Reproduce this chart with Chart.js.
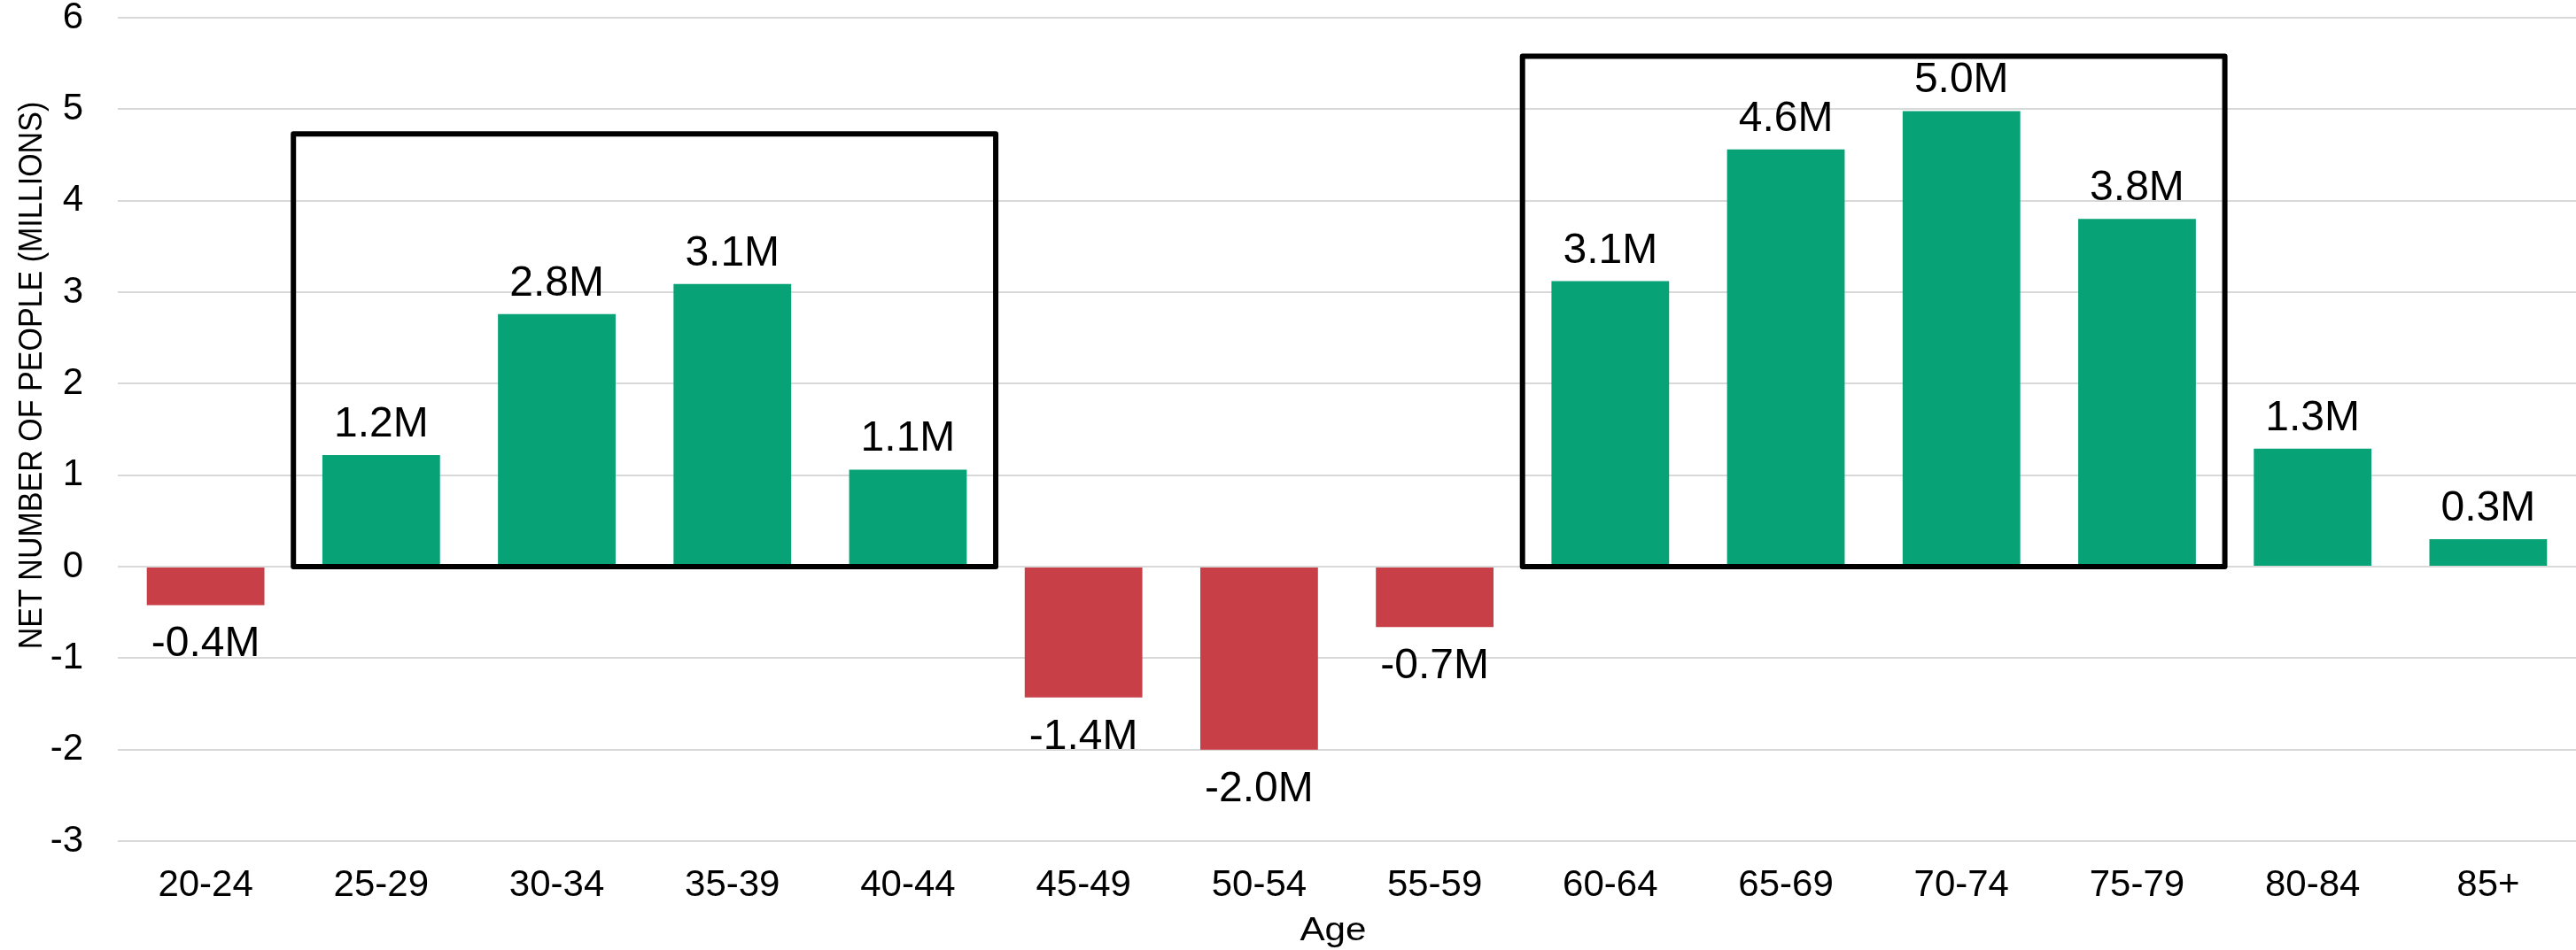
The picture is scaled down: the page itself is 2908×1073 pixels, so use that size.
<!DOCTYPE html>
<html>
<head>
<meta charset="utf-8">
<script src="https://cdn.jsdelivr.net/npm/chart.js@4/dist/chart.umd.min.js"></script>
<style>
  html, body { margin: 0; padding: 0; background: #ffffff; }
  #wrap { width: 2908px; height: 1073px; position: relative; }
</style>
</head>
<body>
<div id="wrap"><canvas id="c" width="2908" height="1073"></canvas></div>
<script>
// ---- data ----
const categories = ["20-24","25-29","30-34","35-39","40-44","45-49","50-54","55-59","60-64","65-69","70-74","75-79","80-84","85+"];
const netMillions = [-0.42, 1.22, 2.76, 3.09, 1.06, -1.43, -2.00, -0.66, 3.12, 4.56, 4.98, 3.80, 1.29, 0.30];
const valueLabels = ["-0.4M","1.2M","2.8M","3.1M","1.1M","-1.4M","-2.0M","-0.7M","3.1M","4.6M","5.0M","3.8M","1.3M","0.3M"];
const yTickValues = [6, 5, 4, 3, 2, 1, 0, -1, -2, -3];
// highlight boxes: first category index, last category index, top value
const boxFirst = [1, 8];
const boxLast = [4, 11];
const boxTop = [4.73, 5.58];
const yAxisTitle = "NET NUMBER OF PEOPLE (MILLIONS)";
const xAxisTitle = "Age";

const GREEN = "#08A277";
const RED = "#C83F47";
const FONT = "'Liberation Sans', Arial, Helvetica, sans-serif";

const overlay = {
  id: "overlay",
  afterDatasetsDraw(chart) {
    const ctx = chart.ctx;
    const x = chart.scales.x, y = chart.scales.y;
    const half = (x.getPixelForValue(1) - x.getPixelForValue(0)) / 2;
    // boxes
    ctx.save();
    ctx.strokeStyle = "#000000";
    ctx.lineWidth = 6;
    ctx.lineJoin = "round";
    for (let i = 0; i < boxFirst.length; i++) {
      const l = x.getPixelForValue(boxFirst[i]) - half;
      const r = x.getPixelForValue(boxLast[i]) + half;
      const t = y.getPixelForValue(boxTop[i]);
      const b = y.getPixelForValue(0);
      ctx.strokeRect(l, t, r - l, b - t);
    }
    ctx.restore();
    // value labels
    ctx.save();
    ctx.fillStyle = "#000000";
    ctx.font = "48px " + FONT;
    ctx.textAlign = "center";
    ctx.textBaseline = "alphabetic";
    const meta = chart.getDatasetMeta(0);
    meta.data.forEach((bar, i) => {
      const v = netMillions[i];
      const cx = bar.x;
      if (v >= 0) {
        ctx.fillText(valueLabels[i], cx, bar.y - 21);
      } else {
        ctx.fillText(valueLabels[i], cx, bar.y + 58);
      }
    });
    ctx.restore();
    // axis titles
    ctx.save();
    ctx.fillStyle = "#000000";
    ctx.font = "37px " + FONT;
    ctx.textAlign = "center";
    ctx.textBaseline = "alphabetic";
    ctx.save();
    ctx.translate(1505, 1062);
    ctx.scale(1.14, 1);
    ctx.fillText(xAxisTitle, 0, 0);
    ctx.restore();
    ctx.translate(47, 424);
    ctx.rotate(-Math.PI / 2);
    ctx.scale(0.92, 1);
    ctx.fillText(yAxisTitle, 0, 0);
    ctx.restore();
  }
};

new Chart(document.getElementById("c"), {
  type: "bar",
  data: {
    labels: categories,
    datasets: [{
      data: netMillions,
      backgroundColor: netMillions.map(v => v >= 0 ? GREEN : RED),
      borderWidth: 0,
      categoryPercentage: 1.0,
      barPercentage: 0.67
    }]
  },
  options: {
    responsive: false,
    devicePixelRatio: 1,
    animation: false,
    layout: { padding: { top: 20, left: 0, right: 0, bottom: 0 } },
    plugins: { legend: { display: false }, tooltip: { enabled: false } },
    scales: {
      x: {
        offset: true,
        grid: { display: false, drawTicks: false },
        border: { display: false },
        ticks: { color: "#000000", font: { family: FONT, size: 42 }, padding: 25, maxRotation: 0, autoSkip: false },
        afterFit(s) { s.height = 123; s.paddingLeft = 0; s.paddingRight = 0; }
      },
      y: {
        min: -3, max: 6,
        afterBuildTicks(s) { s.ticks = yTickValues.map(v => ({ value: v })); },
        grid: { color: "#D9D9D9", lineWidth: 2, drawTicks: false },
        border: { display: false },
        ticks: { color: "#000000", font: { family: FONT, size: 42 }, padding: 39 },
        afterFit(s) { s.width = 133; s.paddingTop = 0; s.paddingBottom = 0; }
      }
    }
  },
  plugins: [overlay]
});
</script>
</body>
</html>
